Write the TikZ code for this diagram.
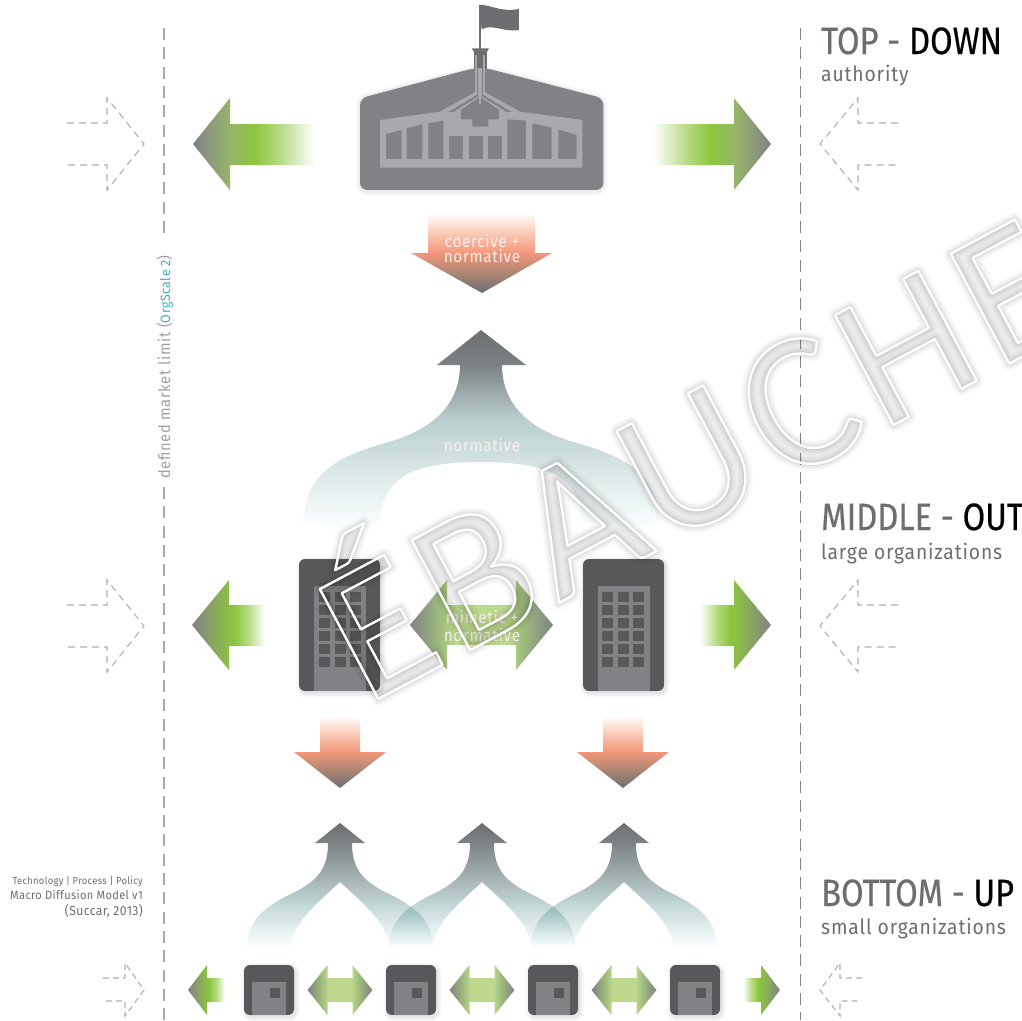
\documentclass[tikz,border=0pt]{standalone}
\usepackage{fontspec}
\usetikzlibrary{calc}
\setmainfont{Fira Sans}
\newfontfamily\wmfont[LetterSpace=5]{Carlito}
\newfontfamily\headfont[FakeStretch=0.86,FakeBold=0.5]{Fira Sans}
\newfontfamily\subfont[FakeStretch=0.92,LetterSpace=4]{Fira Sans}
\newfontfamily\labfont[FakeStretch=0.9,LetterSpace=4]{Fira Sans}
\newfontfamily\credfont[FakeStretch=0.92,LetterSpace=3]{Fira Sans}
\definecolor{dk}{HTML}{58585A}
\definecolor{md}{HTML}{808285}
\definecolor{lt}{HTML}{A7A9AC}
\definecolor{gy}{HTML}{6D6E71}
\definecolor{dsh}{HTML}{B0B0B0}
\definecolor{lbl}{HTML}{F6F0EC}
\definecolor{grA}{RGB}{150,181,107}
\definecolor{grB}{RGB}{140,198,63}
\definecolor{grC}{RGB}{170,212,110}
\definecolor{grD}{RGB}{140,185,78}
\definecolor{grE}{RGB}{180,218,125}
\definecolor{grF}{RGB}{160,190,125}
\definecolor{grG}{RGB}{188,217,142}
\definecolor{orA}{RGB}{175,135,115}
\definecolor{orB}{RGB}{243,150,122}
\definecolor{orC}{RGB}{250,200,180}
\definecolor{teA}{RGB}{232,242,242}
\definecolor{teB}{RGB}{195,216,216}
\definecolor{teC}{RGB}{125,131,133}
\definecolor{teD}{RGB}{240,247,247}
\definecolor{teE}{RGB}{214,229,228}
\definecolor{teF}{RGB}{183,204,204}
\definecolor{oscale}{RGB}{70,170,190}
\definecolor{vtext}{RGB}{160,160,162}
\pgfdeclarehorizontalshading{gT}{100bp}{color(0bp)=(md);color(25bp)=(md);color(40bp)=(grA);color(50bp)=(grB);color(58bp)=(grC);color(75bp)=(white);color(100bp)=(white)}
\pgfdeclarehorizontalshading{gM}{100bp}{color(0bp)=(md);color(25bp)=(md);color(47bp)=(grD);color(54bp)=(grB);color(63bp)=(grE);color(75bp)=(white);color(100bp)=(white)}
\pgfdeclarehorizontalshading{dB}{100bp}{color(0bp)=(md);color(25bp)=(md);color(36bp)=(grF);color(41bp)=(grG);color(59bp)=(grG);color(64bp)=(grF);color(75bp)=(md);color(100bp)=(md)}
\pgfdeclareverticalshading{oD}{100bp}{color(0bp)=(gy);color(25bp)=(gy);color(38bp)=(orA);color(50bp)=(orB);color(62bp)=(orC);color(75bp)=(white);color(100bp)=(white)}
\pgfdeclareverticalshading{uS}{100bp}{color(0bp)=(white);color(25bp)=(white);color(32bp)=(teA);color(42bp)=(teB);color(67bp)=(teC);color(75bp)=(gy);color(100bp)=(gy)}
\pgfdeclareverticalshading{uB}{100bp}{color(0bp)=(white);color(25bp)=(white);color(30bp)=(teD);color(41bp)=(teE);color(53bp)=(teF);color(66bp)=(teC);color(75bp)=(gy);color(100bp)=(gy)}
\tikzset{
 lab/.style={text=lbl,font=\labfont\fontsize{17}{17}\selectfont,inner sep=0pt},
 hollow/.style={draw=dsh,line width=1.1pt,dash pattern=on 7pt off 5pt},
 limit/.style={draw=#1,dash pattern=on 12pt off 7.3pt},
 head/.style={anchor=base west,inner sep=0pt,text=gy,font=\headfont\fontsize{38}{38}\selectfont},
 subh/.style={anchor=base west,inner sep=0pt,text=gy,font=\subfont\fontsize{21}{21}\selectfont},
 credit/.style={anchor=base east,inner sep=0pt,text=gy,font=\credfont\fontsize{#1}{#1}\selectfont},
 wmark/.style={rotate=28,anchor=base west,inner sep=0pt,font=\wmfont\fontsize{194}{194}\selectfont}
}
% soft shadow round a rounded box
\newcommand\softbox[4]{%
 \foreach \w/\o in {9/.02,6/.03,3/.04}{\draw[black,opacity=\o,line width=\w pt,rounded corners=6pt,line join=round] ($(#1,#2)+(1.5,2)$) rectangle ($(#3,#4)+(1.5,2)$);}
 \fill[dk,rounded corners=6pt] (#1,#2) rectangle (#3,#4);}
\newcommand\hollowR[3]{% tip y, half head, half shaft, right facing
 \draw[hollow] (#1-77,#2-#3) -- (#1-37,#2-#3) -- (#1-37,#2-46) -- (#1,#2) -- (#1-37,#2+46) -- (#1-37,#2+#3) -- (#1-77,#2+#3);}
\newcommand\hollowL[3]{%
 \draw[hollow] (#1+78,#2-#3) -- (#1+38,#2-#3) -- (#1+38,#2-46) -- (#1,#2) -- (#1+38,#2+46) -- (#1+38,#2+#3) -- (#1+78,#2+#3);}
\newcommand\dblarrow[1]{% centre x, bottom row
 \shade[shading=dB] (#1-32.5,990) -- (#1-12.5,965) -- (#1-12.5,978) -- (#1+12.5,978) -- (#1+12.5,965) -- (#1+32.5,990) -- (#1+12.5,1015) -- (#1+12.5,1002) -- (#1-12.5,1002) -- (#1-12.5,1015) -- cycle;}
\newcommand\smalldown[1]{%
 \shade[shading=oD] (#1-20,716) -- (#1+20,716) -- (#1+20,752) -- (#1+46,752) -- (#1,788) -- (#1-46,752) -- (#1-20,752) -- cycle;}
\newcommand\uparch[1]{%
 \shade[shading=uS] (#1,823) -- (#1+25,843) -- (#1+12,843)
  .. controls (#1+12,868) and (#1+22,880) .. (#1+45,892)
  .. controls (#1+75,906) and (#1+93,920) .. (#1+93,948)
  -- (#1+49,948) .. controls (#1+49,925) and (#1+25,905) .. (#1,882)
  .. controls (#1-25,905) and (#1-49,925) .. (#1-49,948)
  -- (#1-93,948) .. controls (#1-93,920) and (#1-75,906) .. (#1-45,892)
  .. controls (#1-22,880) and (#1-12,868) .. (#1-12,843)
  -- (#1-25,843) -- cycle;}
\newcommand\smallsq[1]{%
 \softbox{#1}{965}{#1+50}{1015}
 \fill[md] (#1+8,982) rectangle (#1+42,1015);
 \fill[dk] (#1+26,988) rectangle (#1+36,998);}
\newcommand\tower[2]{% x0 building, x0 windows
 \softbox{#1}{559}{#1+81}{691}
 \fill[md] (#1+15,586) rectangle (#1+67,691);
 \foreach \c in {0,1,2}\foreach \r in {0,...,5}{\fill[dk] (#2+\c*15.7,592+\r*13) rectangle ++(11,9.8);}}
\newcommand\wmtext[1]{\special{pdf:code 1 Tr #1 w 1 j}ÉBAUCHE\special{pdf:code 0 Tr}}
\begin{document}
\begin{tikzpicture}[x=1pt,y=-1pt]
\useasboundingbox (0,0) rectangle (1022,1020);
\fill[white] (0,0) rectangle (1022,1020);
% limits
\draw[limit=lt,line width=1.4pt] (164,28) -- (164,237);
\draw[limit=lt,line width=1.4pt] (164,487) -- (164,1020);
\draw[limit=gy!85!white,line width=1pt] (800,28) -- (800,1020);
% hollow arrows
\hollowR{144}{144}{21}\hollowL{820}{144}{21}
\hollowR{144}{626}{21}\hollowL{820}{626}{21}
\draw[hollow,dash pattern=on 6pt off 4pt] (103,978) -- (125,978) -- (125,963) -- (144,990) -- (125,1016) -- (125,1001) -- (103,1001);
\draw[hollow,dash pattern=on 6pt off 4pt] (862,978) -- (840,978) -- (840,963) -- (820,990) -- (840,1016) -- (840,1001) -- (862,1001);
% green arrows, top
\shade[shading=gT] (193,144) -- (230,98) -- (230,124) -- (315,124) -- (315,165) -- (230,165) -- (230,190) -- cycle;
\shade[shading=gT,shading angle=180] (771,144) -- (734,98) -- (734,124) -- (653,124) -- (653,165) -- (734,165) -- (734,190) -- cycle;
% middle
\shade[shading=gM] (192,625) -- (229,580) -- (229,605) -- (265,605) -- (265,646) -- (229,646) -- (229,670) -- cycle;
\shade[shading=gM,shading angle=180] (771,625) -- (734,580) -- (734,605) -- (700,605) -- (700,646) -- (734,646) -- (734,670) -- cycle;
% bottom
\shade[shading=gM] (188,990) -- (207,965) -- (207,978) -- (225,978) -- (225,1002) -- (207,1002) -- (207,1015) -- cycle;
\shade[shading=gM,shading angle=180] (780,990) -- (761,965) -- (761,978) -- (743,978) -- (743,1002) -- (761,1002) -- (761,1015) -- cycle;
\dblarrow{340}\dblarrow{482}\dblarrow{624}
% mimetic arrow
\shade[shading=dB] (410,625) -- (447,580) -- (447,605) -- (516,605) -- (516,580) -- (553,625) -- (516,670) -- (516,645) -- (447,645) -- (447,670) -- cycle;
% downs
\shade[shading=oD] (428,213) -- (535,213) -- (535,253) -- (552,253) -- (482,293) -- (411,253) -- (428,253) -- cycle;
\smalldown{340}\smalldown{623}
% ups
\begin{scope}[blend mode=multiply]
\uparch{340}\uparch{482}\uparch{624}
\end{scope}
\shade[shading=uB] (481,330) -- (526,365) -- (502,365)
  .. controls (502,395) and (518,425) .. (570,441)
  .. controls (620,455) and (660,470) .. (660,528)
  -- (583,528) .. controls (582,480) and (555,462) .. (481,462)
  .. controls (407,462) and (380,480) .. (379,528)
  -- (303,528) .. controls (303,470) and (342,455) .. (392,441)
  .. controls (444,425) and (460,395) .. (460,365)
  -- (437,365) -- cycle;
% buildings
\tower{299}{319}\tower{583}{602}
\smallsq{244}\smallsq{386}\smallsq{528}\smallsq{670}
% parliament
\begin{scope}[shift={(340,0)},x=.3333pt,y=-.3333pt]
 \foreach \w/\o in {9/.015,6/.025,3/.035}{\draw[black,opacity=\o,line width=\w pt,line join=round,rounded corners=7pt] (60,295) -- (400,208) -- (440,208) -- (790,295) -- (790,574) -- (60,574) -- cycle;}
 \fill[md,rounded corners=7pt] (60,570) -- (60,295) -- (400,205) -- (440,205) -- (790,295) -- (790,570) -- cycle;
 \fill[lt] (120,360) -- (300,335) -- (408,275) -- (432,275) -- (540,335) -- (727,360) -- (727,503) -- (120,503) -- cycle;
 % slits in the fan
 \fill[md] (326,336) -- (412,284) -- (415,289) -- (340,336) -- cycle;
 \fill[md] (514,336) -- (428,284) -- (425,289) -- (500,336) -- cycle;
 % forecourt block
 \fill[md] (420,290) -- (477,330) -- (477,358) -- (445,358) -- (445,380) -- (397,380) -- (397,358) -- (363,358) -- (363,330) -- cycle;
 \foreach \a/\b/\c/\d in {138/402/185/390,200/385/247/373,265/370/310/362,502/358/558/362,577/370/635/383,655/388/710/405}{\fill[md] (\a,\b) -- (\c,\d) -- (\c,477) -- (\a,477) -- cycle;}
 \foreach \a/\c in {327/370,387/430,443/487}{\fill[md] (\a,408) rectangle (\c,477);}
 % mast
 \fill[gy] (403,155) rectangle (440,206);
 \fill[gy] (395,145) -- (447,145) -- (440,157) -- (403,157) -- cycle;
 \fill[lt] (406,165) rectangle (412,205);
 \fill[lt] (428,165) rectangle (434,205);
 \fill[lt] (405,205) rectangle (435,280);
 \fill[md] (412,205) rectangle (415,285);
 \fill[md] (425,205) rectangle (428,285);
 \draw[lt,line width=1.2pt] (420,205) -- (420,312);
 \draw[gy,line width=1.3pt] (420,15) -- (420,205);
 \fill[gy] (417,15) .. controls (450,12) and (480,38) .. (537,27) -- (537,90) .. controls (490,98) and (460,70) .. (425,88) -- cycle;
\end{scope}
% labels
\node[lab] (c1) at (482,241) {coercive +};
\node[lab] (c2) at (482,256) {normative};
\node[lab] (n1) at (482,445) {normative};
\node[lab] (m1) at (482,617) {mimetic +};
\node[lab] (m2) at (482,635) {normative};
% side headings
\node[head] (t1) at (821,54) {TOP - \textcolor{black}{DOWN}};
\node[subh] (t2) at (821,81) {authority};
\node[head] (t3) at (821,530) {MIDDLE - \textcolor{black}{OUT}};
\node[subh] (t4) at (821,559) {large organizations};
\node[head] (t5) at (821,906) {BOTTOM - \textcolor{black}{UP}};
\node[subh] (t6) at (821,934) {small organizations};
\node[credit=10.2] (k1) at (143,884) {Technology | Process | Policy};
\node[credit=12] (k2) at (143,899) {Macro Diffusion Model v1};
\node[credit=13.2] (k3) at (143,915) {(Succar, 2013)};
\node[rotate=90,inner sep=0pt,anchor=base west,text=vtext,font=\subfont\fontsize{16}{16}\selectfont] (v) at (170,479) {defined market limit ({\fontsize{13.5}{13.5}\selectfont\textcolor{oscale}{OrgScale 2}})};
% watermark
\foreach \w/\o in {15/.02,11/.03,7/.04,4/.05}{
 \node[wmark,text=black,opacity=\o] (w\w) at (366,705.5) {\wmtext{\w}};}
\node[wmark,text=black,opacity=.07] (wf) at (366,705.5) {ÉBAUCHE};
\node[wmark,text=white] (ws) at (366,705.5) {\wmtext{2.4}};
\end{tikzpicture}
\end{document}
